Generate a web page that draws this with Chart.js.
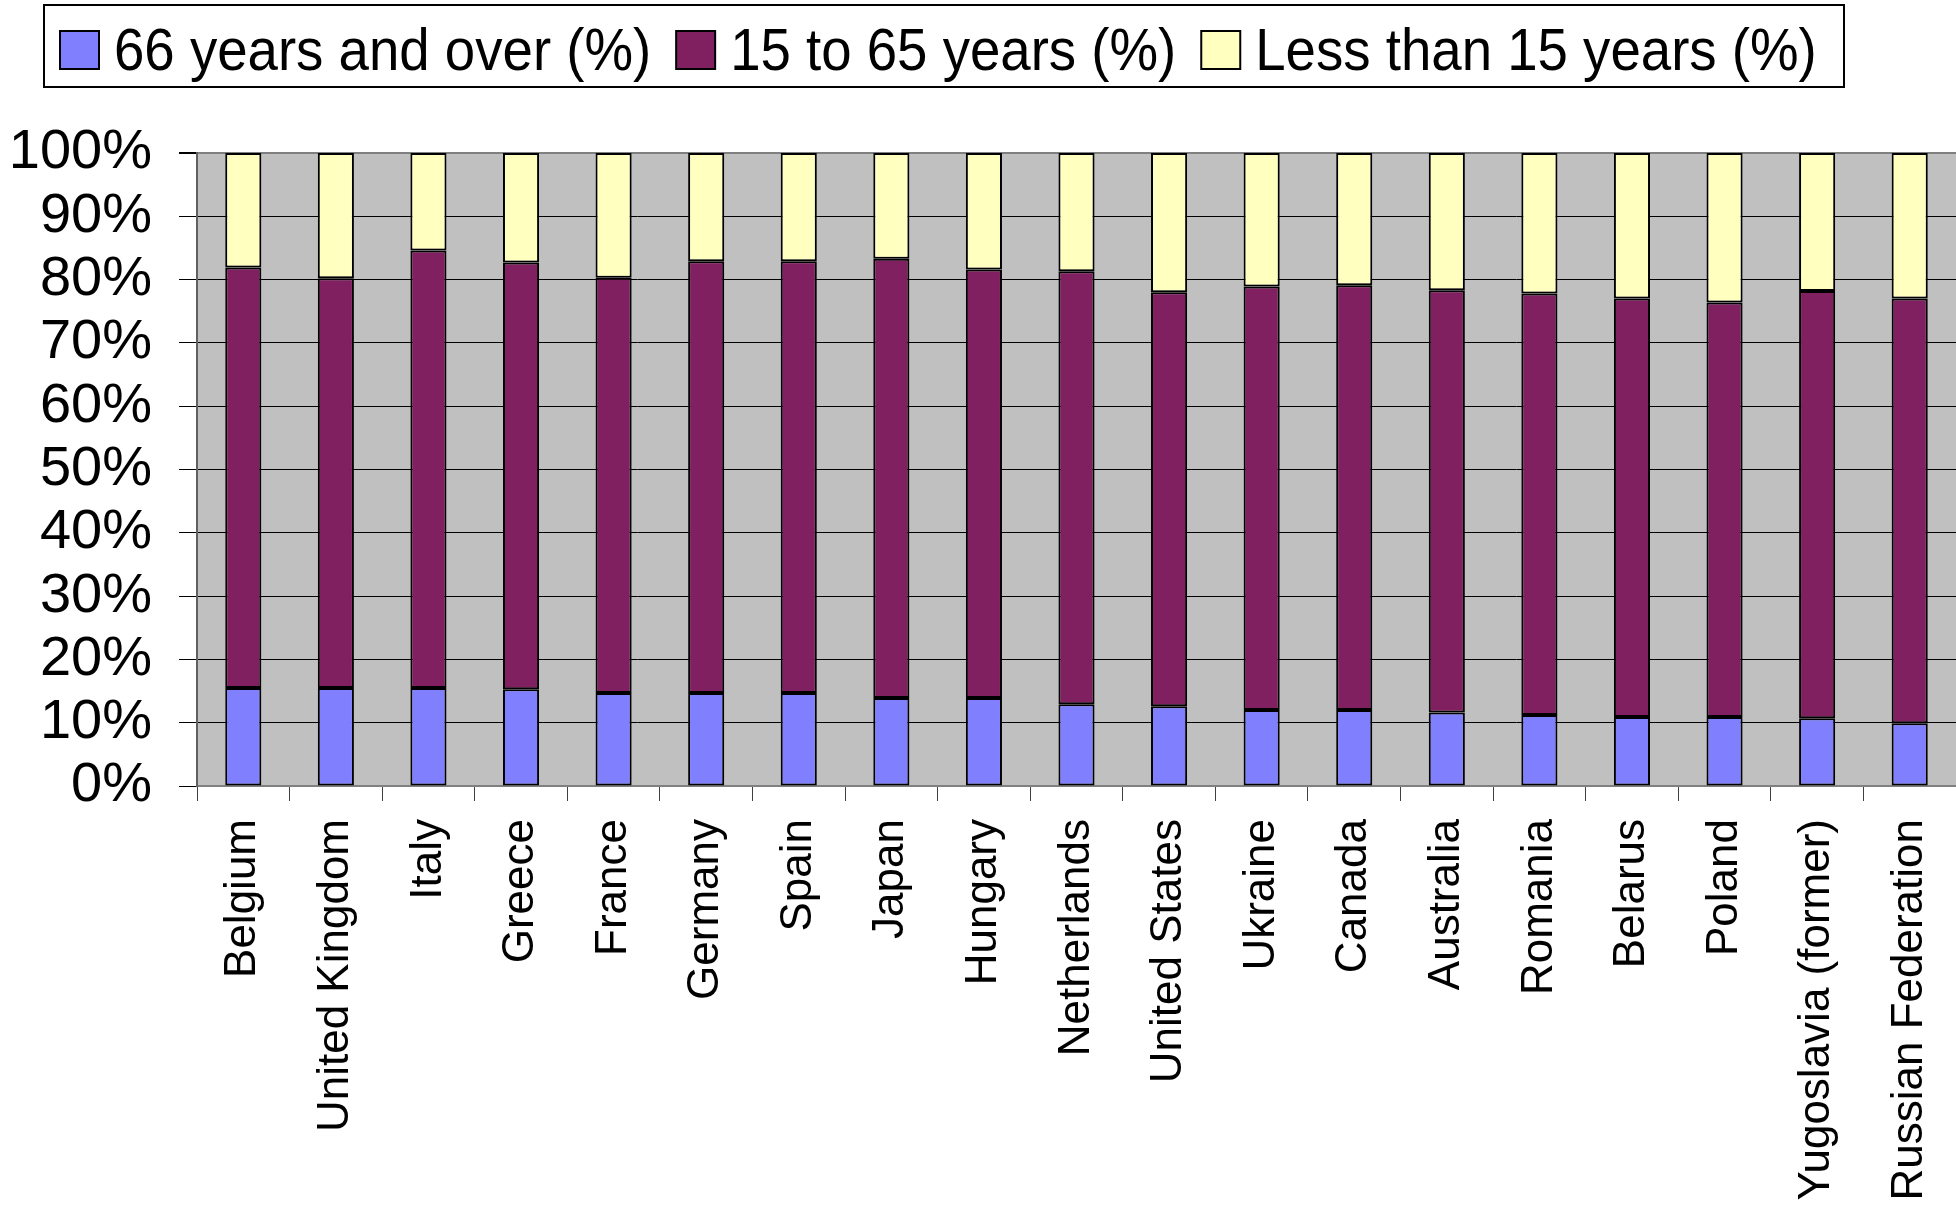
<!DOCTYPE html>
<html>
<head>
<meta charset="utf-8">
<script src="https://cdn.jsdelivr.net/npm/chart.js@4/dist/chart.umd.min.js"></script>
<style>
    html, body { margin: 0; padding: 0; background: #fff; }
    #wrap { position: relative; width: 1956px; height: 1210px; }
</style>
</head>
<body>
<div id="wrap"><canvas id="grafico"></canvas></div>
<script>
const paises = [
    'Belgium', 'United Kingdom', 'Italy', 'Greece', 'France', 'Germany', 'Spain',
    'Japan', 'Hungary', 'Netherlands', 'United States', 'Ukraine', 'Canada',
    'Australia', 'Romania', 'Belarus', 'Poland', 'Yugoslavia (former)', 'Russian Federation'
];
const mayores66 = [15.5, 15.5, 15.5, 15.3, 14.7, 14.7, 14.7, 13.9, 13.9, 12.9, 12.6, 12.0, 12.0, 11.6, 11.2, 10.9, 10.9, 10.7, 9.9];
const de15a65 = [66.4, 64.7, 69.1, 67.4, 65.6, 68.2, 68.2, 69.4, 67.7, 68.4, 65.4, 66.9, 67.1, 66.7, 66.6, 66.1, 65.5, 67.5, 67.1];
const menores15 = [18.1, 19.8, 15.4, 17.3, 19.7, 17.1, 17.1, 16.7, 18.4, 18.7, 22.0, 21.1, 20.9, 21.7, 22.2, 23.0, 23.6, 21.8, 23.0];
const ticksY = [0, 10, 20, 30, 40, 50, 60, 70, 80, 90, 100];

const fuente = '"Liberation Sans", Arial, sans-serif';

// fondo gris del area de trazado
const fondoPlot = {
    id: 'fondoPlot',
    beforeDraw(chart) {
        const { ctx, chartArea: a } = chart;
        ctx.save();
        ctx.fillStyle = '#C0C0C0';
        ctx.fillRect(a.left, a.top, a.right - a.left, a.bottom - a.top);
        ctx.restore();
    }
};

// leyenda con recuadro, estilo Excel
const leyendaCaja = {
    id: 'leyendaCaja',
    afterDraw(chart) {
        const ctx = chart.ctx;
        const escalaX = 0.91;
        ctx.save();
        ctx.strokeStyle = '#000';
        ctx.lineWidth = 2;
        ctx.strokeRect(44, 5, 1800, 82);
        ctx.font = '60px ' + fuente;
        ctx.textBaseline = 'alphabetic';
        let x = 60;
        chart.data.datasets.forEach(ds => {
            ctx.fillStyle = ds.backgroundColor;
            ctx.fillRect(x, 31, 39, 38);
            ctx.lineWidth = 2;
            ctx.strokeRect(x, 31, 39, 38);
            x += 39 + 15;
            const w = ctx.measureText(ds.label).width * escalaX;
            ctx.save();
            ctx.translate(x, 70);
            ctx.scale(escalaX, 1);
            ctx.fillStyle = '#000';
            ctx.fillText(ds.label, 0, 0);
            ctx.restore();
            x += w + 25;
        });
        ctx.restore();
    }
};

const ctx = document.getElementById('grafico').getContext('2d');
new Chart(ctx, {
    type: 'bar',
    data: {
        labels: paises,
        datasets: [
            { label: '66 years and over (%)', data: mayores66, backgroundColor: '#8080FF' },
            { label: '15 to 65 years (%)', data: de15a65, backgroundColor: '#802060' },
            { label: 'Less than 15 years (%)', data: menores15, backgroundColor: '#FFFFC0' }
        ].map(d => Object.assign(d, {
            borderColor: '#000',
            borderWidth: 2,
            borderSkipped: false,
            barPercentage: 0.39,
            categoryPercentage: 1
        }))
    },
    options: {
        responsive: true,
        maintainAspectRatio: false,
        animation: false,
        layout: { padding: { top: 153, left: 0, right: 0, bottom: 0 } },
        plugins: {
            legend: { display: false },
            tooltip: { enabled: false }
        },
        scales: {
            x: {
                stacked: true,
                afterFit: s => { s.height = 424; s.paddingLeft = 0; s.paddingRight = 0; },
                grid: {
                    drawOnChartArea: false,
                    offset: true,
                    tickLength: 15,
                    color: '#404040',
                    lineWidth: 1
                },
                border: { color: '#808080', width: 2 },
                ticks: {
                    minRotation: 90,
                    maxRotation: 90,
                    autoSkip: false,
                    padding: 18,
                    color: '#000',
                    font: { family: fuente, size: 44 }
                }
            },
            y: {
                stacked: true,
                min: 0,
                max: 100,
                afterFit: s => { s.width = 197; s.paddingTop = 0; s.paddingBottom = 0; },
                afterBuildTicks: s => { s.ticks = ticksY.map(v => ({ value: v })); },
                grid: {
                    color: c => (c.tick && (c.tick.value === 100 || c.tick.value === 0)) ? '#808080' : '#000',
                    lineWidth: c => (c.tick && c.tick.value === 100) ? 2 : 1,
                    tickColor: '#000',
                    tickLength: 18
                },
                border: { color: '#606060', width: 2 },
                ticks: {
                    autoSkip: false,
                    padding: 27,
                    color: '#000',
                    font: { family: fuente, size: 56 },
                    callback: v => v + '%'
                }
            }
        }
    },
    plugins: [fondoPlot, leyendaCaja]
});
</script>
</body>
</html>
